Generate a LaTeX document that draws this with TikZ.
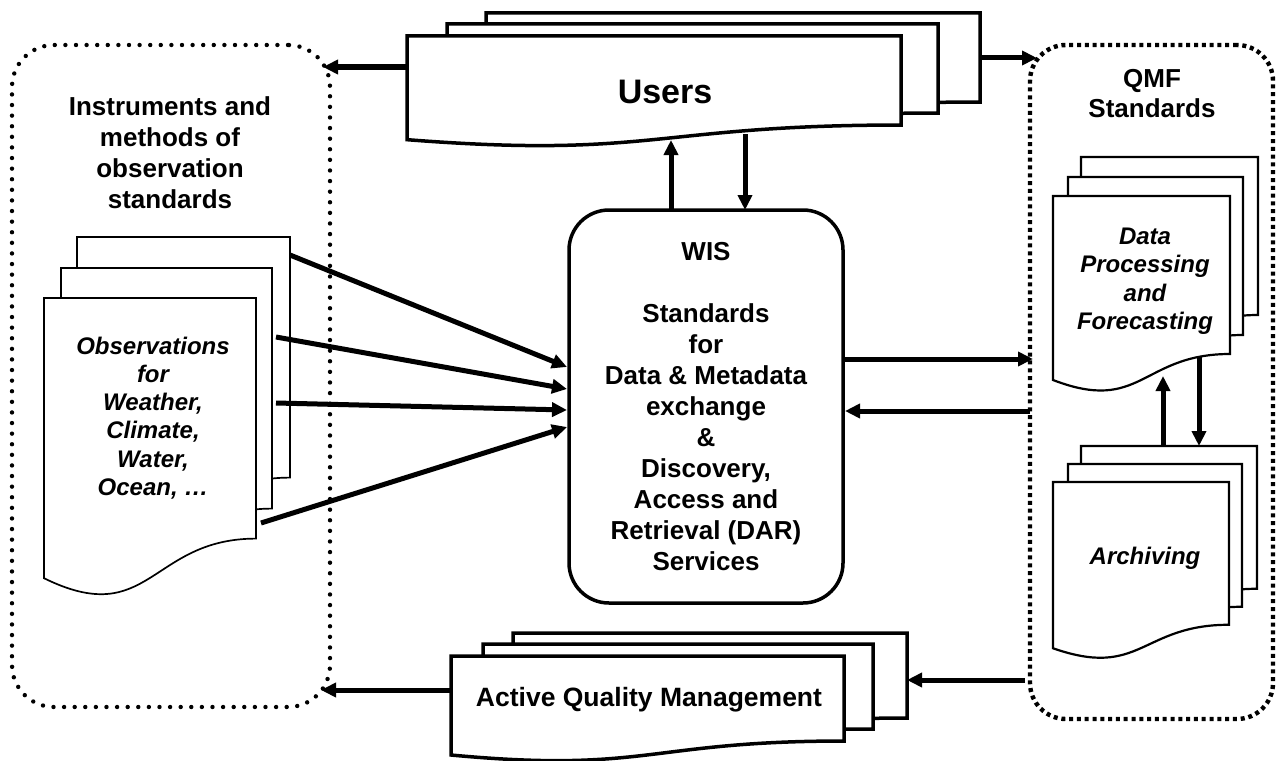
\documentclass[tikz,border=0pt]{standalone}
\usepackage{fontspec}
\setmainfont{Liberation Sans}
\usepackage{graphicx}
\usetikzlibrary{arrows.meta}

\newcommand\mydoc[5]{%
  \filldraw[fill=white,line join=miter,#1] (#2,#3) -- ({#2+#4},#3) -- ({#2+#4},{#3+0.802*#5})
    .. controls ({#2+0.5*#4},{#3+0.802*#5}) and ({#2+0.5*#4},{#3+1.1075*#5}) ..
    (#2,{#3+0.934*#5}) -- cycle;}

\tikzset{
  arr/.style={line width=5pt,-{Triangle[length=15pt,width=14pt]}},
  dotround/.style={draw,line width=4.4pt,dash pattern=on 0pt off 10.6pt,line cap=round,rounded corners=42pt},
  dotsquare/.style={draw,line width=4.4pt,dash pattern=on 4pt off 3.8pt,rounded corners=36pt},
  wisbox/.style={draw,line width=3.5pt,rounded corners=40pt,align=center,
    font=\bfseries\fontsize{26}{31}\selectfont},
  txt/.style={align=center,font=\bfseries\fontsize{26}{31}\selectfont},
  itx/.style={align=center,font=\bfseries\itshape\fontsize{24}{28.2}\selectfont},
  thick3/.style={line width=3.5pt},
  thin15/.style={line width=1.7pt},
  thin2/.style={line width=2.2pt}
}

\begin{document}
\begin{tikzpicture}[x=1pt,y=-1pt]
\useasboundingbox[fill=white] (0,0) rectangle (1276,760);

% dotted group boxes
\node[dotround,minimum width=318pt,minimum height=662pt,inner sep=0pt] (instr) at (171,376) {};
\node[dotsquare,minimum width=243pt,minimum height=674pt,inner sep=0pt] (qmf) at (1151.5,382) {};

% Users multi-document
\mydoc{thick3}{486}{13}{494}{111}
\mydoc{thick3}{447}{24}{491}{111}
\mydoc{thick3}{407}{36}{494}{111}
\node[font=\bfseries\fontsize{34}{40}\selectfont] (users) at (665,92) {Users};

% Observations multi-document
\mydoc{thin15}{77}{237}{213}{300}
\mydoc{thin15}{61}{268}{211}{300}
\mydoc{thin15}{44}{298}{212}{300}
\node[txt] (instrT) at (170,153) {Instruments and\\methods of\\observation\\standards};
\node[itx] (obs) at (153,418) {Observations\\for\\Weather,\\Climate,\\Water,\\Ocean, …};

% QMF documents
\mydoc{thin2}{1081}{157}{177}{197}
\mydoc{thin2}{1068}{177}{175}{197}
\mydoc{thin2}{1053}{196}{177}{197}
\mydoc{thin2}{1081}{446}{176}{178}
\mydoc{thin2}{1068}{464}{174}{178}
\mydoc{thin2}{1053}{482}{176}{178}
\node[txt,font=\bfseries\fontsize{26}{30}\selectfont] (qmfT) at (1152,94) {QMF\\Standards};
\node[itx,font=\bfseries\itshape\fontsize{24}{28.5}\selectfont] (dpf) at (1145,281) {Data\\Processing\\and\\Forecasting};
\node[itx] (arch) at (1145,558) {Archiving};

% Active Quality Management
\mydoc{thick3}{513}{633}{394}{106}
\mydoc{thick3}{483}{644}{390}{106}
\mydoc{thick3}{451}{656}{393}{106}
\node[font=\bfseries\fontsize{26.5}{31}\selectfont] (aqm) at (649,700) {Active Quality Management};

% WIS
\node[wisbox,minimum width=274pt,minimum height=393pt,inner sep=0pt] (wis) at (706,406.5)
  {WIS\\[31pt]Standards\\for\\Data \& Metadata\\exchange\\\&\\Discovery,\\Access and\\Retrieval (DAR)\\Services};

% connector end points
\coordinate (uL) at (407,67);   \coordinate (iTR) at (323,67);
\coordinate (uR) at (980,58);   \coordinate (qTL) at (1037,58);
\coordinate (wU) at (671,210);  \coordinate (uB1) at (671,140);
\coordinate (uB2) at (745,134); \coordinate (wD) at (745,210);
\coordinate (o1) at (290,255);  \coordinate (w1) at (567,367);
\coordinate (o2) at (276,337);  \coordinate (w2) at (567,389);
\coordinate (o3) at (276,403);  \coordinate (w3) at (567,410);
\coordinate (o4) at (261,523);  \coordinate (w4) at (567,427);
\coordinate (wR1) at (843,359); \coordinate (qL1) at (1033,359);
\coordinate (qL2) at (1030,411);\coordinate (wR2) at (845,411);
\coordinate (aT) at (1163,446); \coordinate (dB) at (1163,376);
\coordinate (dB2) at (1199,357);\coordinate (aT2) at (1199,446);
\coordinate (qL3) at (1025,680);\coordinate (aqR) at (907,680);
\coordinate (aqL) at (451,690); \coordinate (iBR) at (321,690);

\draw[arr] (uL) -- (iTR);
\draw[arr] (uR) -- (qTL);
\draw[arr] (wU) -- (uB1);
\draw[arr] (uB2) -- (wD);
\draw[arr] (o1) -- (w1);
\draw[arr] (o2) -- (w2);
\draw[arr] (o3) -- (w3);
\draw[arr] (o4) -- (w4);
\draw[arr] (wR1) -- (qL1);
\draw[arr] (qL2) -- (wR2);
\draw[arr] (aT) -- (dB);
\draw[arr] (dB2) -- (aT2);
\draw[arr] (qL3) -- (aqR);
\draw[arr] (aqL) -- (iBR);
\end{tikzpicture}
\end{document}
